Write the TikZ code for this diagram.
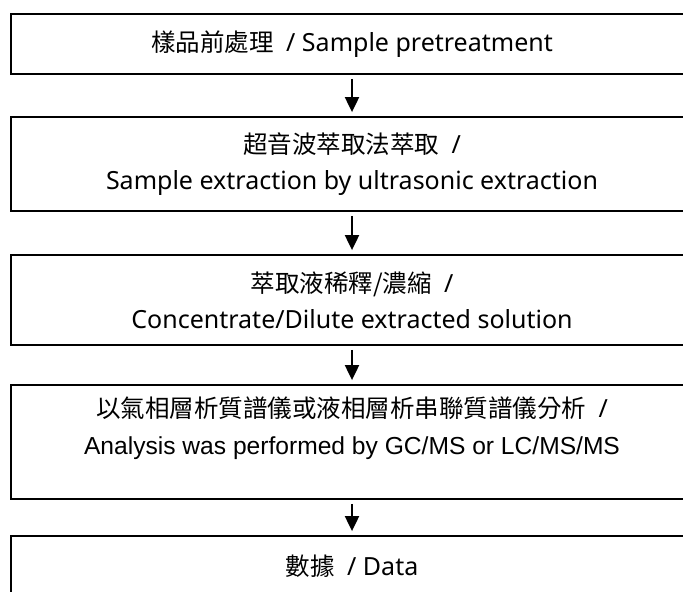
\documentclass[tikz,border=0pt]{standalone}
\usepackage{fontspec}
\setmainfont{Noto Sans}
\newfontfamily\cjk{Noto Sans CJK TC}
\newfontfamily\arialf{Liberation Sans}
\usetikzlibrary{arrows.meta}
\newcommand{\zh}[1]{{\cjk\fontsize{24.5bp}{36bp}\selectfont #1}}
\begin{document}
\begin{tikzpicture}[x=1bp,y=-1bp,
  stage/.style={draw=black, line width=1.8bp, minimum width=682bp, inner sep=0pt, align=center,
    font=\fontsize{25bp}{36bp}\selectfont},
  label/.style={inner sep=0pt, align=center, font=\fontsize{25bp}{37bp}\selectfont},
  flow/.style={line width=2bp, -{Triangle[length=15bp,width=14bp]}, shorten <=4bp, shorten >=4bp}]
\useasboundingbox (0,0) rectangle (683,592);
\clip (0,0) rectangle (683,592);
\node[stage, minimum height=60bp] (b1) at (352,44)
  {\zh{樣品前處理}\hspace{0.5em}/ Sample pretreatment};
\node[stage, minimum height=94bp] (b2) at (352,164)
  {\zh{超音波萃取法萃取}\hspace{0.5em}/\\Sample extraction by ultrasonic extraction};
\node[stage, minimum height=90bp] (b3) at (352,300)
  {\zh{萃取液稀釋/濃縮}\hspace{0.5em}/\\Concentrate/Dilute extracted solution};
\node[stage, minimum height=114bp] (b4) at (352,442) {};
\node[label] (t4) at (352,428)
  {\zh{以氣相層析質譜儀或液相層析串聯質譜儀分析}\hspace{0.5em}/\\{\arialf\fontsize{24.6bp}{37bp}\selectfont Analysis was performed by GC/MS or LC/MS/MS}};
\node[stage, minimum height=60bp] (b5) at (352,566)
  {\zh{數據}\hspace{0.5em}/ Data};
\draw[flow] (b1.south) -- (b2.north);
\draw[flow] (b2.south) -- (b3.north);
\draw[flow] (b3.south) -- (b4.north);
\draw[flow] (b4.south) -- (b5.north);
\end{tikzpicture}
\end{document}
